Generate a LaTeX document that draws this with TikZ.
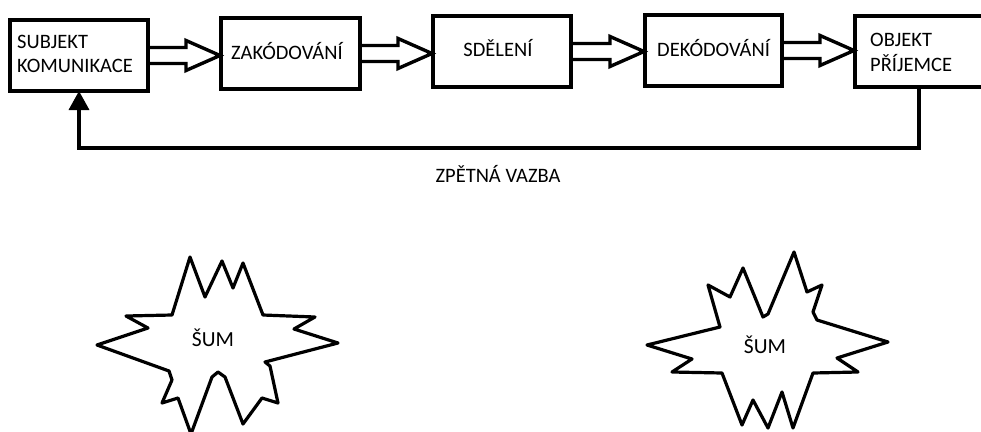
\documentclass[tikz,border=0pt]{standalone}
\usepackage{fontspec}
\setmainfont{Carlito}
\usetikzlibrary{arrows.meta,calc}

\tikzset{
  stage/.style={draw=black, line width=3.4pt, outer sep=0pt, inner sep=0pt,
    minimum height=71pt},
  caption/.style={inner sep=0pt, font=\fontsize{20.5}{24}\selectfont, text=black},
  noiselabel/.style={inner sep=0pt, font=\fontsize{21.5}{25}\selectfont, text=black, anchor=base},
  blockarrow/.style={draw=black, line width=3.4pt, line join=miter},
  feedback/.style={draw=black, line width=3.4pt, -{Triangle[length=19pt,width=20pt]}},
  noise/.style={draw=black, line width=3.2pt, line join=round}
}

% hollow block arrow from the east side of one stage to the west side of the next
\newcommand\blockarrow[2]{%
  \draw[blockarrow] let \p1=(#1.east), \p2=(#2.west) in
    (\x1,\y1+8pt) -- (\x2-35pt,\y1+8pt) -- (\x2-35pt,\y1+15pt) -- (\x2-1pt,\y1)
    -- (\x2-35pt,\y1-15pt) -- (\x2-35pt,\y1-8pt) -- (\x1,\y1-8pt);}

\begin{document}
\begin{tikzpicture}[x=1pt, y=-1pt]
  \useasboundingbox (0,0) rectangle (981,431);
  \clip (0,0) rectangle (981,431);

  % communication stages
  \node[stage, minimum width=138pt] (subj) at (79,55.5) {};
  \node[stage, minimum width=139pt] (enc)  at (290.5,53.5) {};
  \node[stage, minimum width=138pt] (msg)  at (502,51.5) {};
  \node[stage, minimum width=137pt] (dec)  at (713.5,50.5) {};
  \node[stage, minimum width=128pt] (obj)  at (919,51.5) {};

  % stage texts
  \node[caption, anchor=base west] (t1a) at (17,48.5) {SUBJEKT};
  \node[caption, anchor=base west] (t1b) at (17,72.5) {KOMUNIKACE};
  \node[caption, anchor=base west] (t2)  at (231,59.5) {ZAKÓDOVÁNÍ};
  \node[caption, anchor=base]      (t3)  at (498,56.5) {SDĚLENÍ};
  \node[caption, anchor=base west] (t4)  at (657,56.5) {DEKÓDOVÁNÍ};
  \node[caption, anchor=base west] (t5a) at (870,46.5) {OBJEKT};
  \node[caption, anchor=base west] (t5b) at (870,71.5) {PŘÍJEMCE};

  % flow between the stages
  \blockarrow{subj}{enc}
  \blockarrow{enc}{msg}
  \blockarrow{msg}{dec}
  \blockarrow{dec}{obj}

  % feedback loop
  \coordinate (fb) at (0,148);
  \draw[feedback] (obj.south) |- (fb -| subj.south) -- (subj.south);
  \node[caption, anchor=base] (fbl) at (498,182) {ZPĚTNÁ VAZBA};

  % noise bursts
  \draw[noise] (190,257) -- (205,297) -- (222,261) -- (233,288) -- (243,263)
    -- (263,315) -- (315,317) -- (294,329) -- (338,343) -- (265,362)
    -- (270,366) -- (278,403) -- (262,398) -- (243,424) -- (225,377)
    -- (218,372) -- (212,377) -- (191,434) -- (178,398) -- (162,403)
    -- (172,380) -- (169,371) -- (97,345) -- (148,328) -- (126,316)
    -- (172,315) -- cycle;
  \node[noiselabel] (n1) at (213,346) {ŠUM};

  \draw[noise] (647,345) -- (720,327) -- (708,285) -- (730,297) -- (743,268)
    -- (763,317) -- (768,314) -- (794,252) -- (807,292) -- (822,285)
    -- (813,312) -- (817,320) -- (888,342) -- (837,358) -- (858,372)
    -- (813,373) -- (793,428) -- (782,392) -- (768,428) -- (753,400)
    -- (742,425) -- (722,373) -- (672,372) -- (692,359) -- cycle;
  \node[noiselabel] (n2) at (765,353) {ŠUM};
\end{tikzpicture}
\end{document}
